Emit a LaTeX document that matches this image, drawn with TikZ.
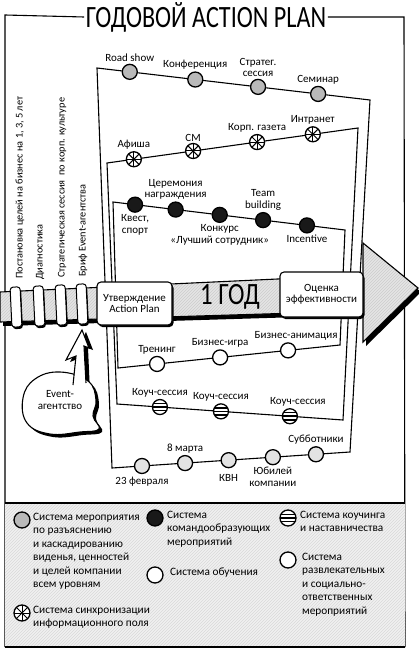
\documentclass[tikz,border=0pt]{standalone}
\usepackage{fontspec}
\setmainfont{Carlito}
\usetikzlibrary{calc,patterns,shadows,positioning}

\newcommand{\evfont}{\fontsize{11}{11.5}\selectfont}
\newcommand{\sidefont}{\fontsize{10.3}{11}\selectfont}
\newcommand{\legfont}{\fontsize{11.3}{13.4}\selectfont}
\newcommand{\bigfont}{\fontsize{31}{31}\selectfont}
\newcommand{\arrowpath}{(0,292) -- (363,275) -- (363,243) -- (418,288) -- (363,342) -- (363,311) -- (0,322) -- cycle}
\newcommand{\bubblepath}{plot[smooth cycle, tension=0.7] coordinates {(60,372) (88,381) (96,400) (93,416) (99,429) (80,432) (50,434) (27,423) (23,398) (35,379)}}
\newcommand{\boltpath}{(73,390) -- (76,356) -- (66,360) -- (82,330) -- (89,348) -- (84,346) -- (86,390) -- cycle}

\tikzset{
  frame/.style={line width=1.1pt},
  loopline/.style={line width=1.1pt, line join=miter},
  ev/.style={circle, draw, line width=1.3pt, minimum size=15pt, inner sep=0pt},
  visionev/.style={ev, fill=gray!55},
  syncev/.style={ev, fill=white, path picture={
      \foreach \a in {0,45,90,135}
        \draw[line width=1pt] ($(path picture bounding box.center)+(\a:9pt)$) -- ($(path picture bounding box.center)+(\a+180:9pt)$);}},
  teamev/.style={ev, fill=black!90},
  studyev/.style={ev, fill=white},
  coachev/.style={ev, fill=white, path picture={
      \foreach \d in {-3.6,0,3.6}
        \draw[line width=1.6pt] ($(path picture bounding box.center)+(-10pt,\d*1pt)$) -- ++(20pt,0pt);}},
  funev/.style={ev, fill=gray!22},
  every label/.style={font=\evfont, align=center, inner sep=1.5pt},
  stepbox/.style={draw, fill=white, rounded corners=4pt, line width=1.1pt, align=center, font=\evfont,
      drop shadow={shadow xshift=1.5pt, shadow yshift=-2pt, fill=black, opacity=1}},
  coil/.style={draw, fill=white, rounded corners=3pt, minimum width=10pt, minimum height=40pt, line width=1pt,
      rotate=2.7, drop shadow={shadow xshift=1pt, shadow yshift=-2pt, fill=black, opacity=1}},
  sidetext/.style={rotate=90, anchor=west, font=\sidefont, inner sep=1pt},
  legtext/.style={anchor=north west, align=left, font=\legfont, inner sep=0pt},
  legicon/.style={minimum size=16pt}
}

\begin{document}
\begin{tikzpicture}[x=1pt, y=-1pt]
\useasboundingbox (0,0) rectangle (419,650);

% Title and frame
\node[font=\bigfont, xscale=0.78, inner sep=2pt] (title) at (206,17) {ГОДОВОЙ ACTION PLAN};
\draw[frame] (5,647) -- (5,15) -- (title.west);
\draw[frame] (title.east) -- (404,17) -- (405,647);

% Legend background
\fill[gray!12] (5,503) rectangle (405,647);
\fill[pattern=north east lines, pattern color=gray!30] (5,503) rectangle (405,647);
\draw[frame] (5,503) -- (405,503);
\draw[line width=1.6pt] (5,647) -- (405,647);

% Loop corners
\coordinate (A-tl) at (97,68);
\coordinate (A-tr) at (370,100);
\coordinate (A-br) at (350,452);
\coordinate (A-bl) at (112,468);
\coordinate (B-tl) at (107,163);
\coordinate (B-tr) at (358,128);
\coordinate (B-br) at (343,420);
\coordinate (B-bl) at (117,404);
\coordinate (C-tl) at (113,202);
\coordinate (C-tr) at (345,230);
\coordinate (C-br) at (340,345);
\coordinate (C-bl) at (118,368);

\draw[loopline] (A-tl) -- (A-tr) -- (A-br) -- (A-bl) -- cycle;
\draw[loopline] (B-tl) -- (B-tr) -- (B-br) -- (B-bl) -- cycle;
\draw[loopline] (C-tl) -- (C-tr) -- (C-br) -- (C-bl) -- cycle;

% Row 1
\node[visionev, label=above:Road show] (roadshow) at ($(A-tl)!0.12!(A-tr)$) {};
\node[visionev, label=above:Конференция] (conf) at ($(A-tl)!0.36!(A-tr)$) {};
\node[visionev, label={above:Стратег.\\сессия}] (strat) at ($(A-tl)!0.59!(A-tr)$) {};
\node[visionev, label=above:Семинар] (seminar) at ($(A-tl)!0.81!(A-tr)$) {};

% Row 2
\node[syncev, label=above:Афиша] (afisha) at ($(B-tl)!0.107!(B-tr)$) {};
\node[syncev, label=above:СМ] (smi) at ($(B-tl)!0.343!(B-tr)$) {};
\node[syncev, label=above:Корп. газета] (gazeta) at ($(B-tl)!0.598!(B-tr)$) {};
\node[syncev, label=above:Интранет] (intranet) at ($(B-tl)!0.82!(B-tr)$) {};

% Row 3
\node[teamev, label={below:Квест,\\спорт}] (quest) at ($(C-tl)!0.095!(C-tr)$) {};
\node[teamev, label={above:Церемония\\награждения}] (award) at ($(C-tl)!0.27!(C-tr)$) {};
\node[teamev, label={below:Конкурс\\«Лучший сотрудник»}] (contest) at ($(C-tl)!0.46!(C-tr)$) {};
\node[teamev, label={above:Team\\building}] (teamb) at ($(C-tl)!0.647!(C-tr)$) {};
\node[teamev, label=below:Incentive] (incentive) at ($(C-tl)!0.836!(C-tr)$) {};

% Row 4
\node[studyev, label=above:Тренинг] (training) at ($(C-bl)!0.176!(C-br)$) {};
\node[studyev, label=above:Бизнес-игра] (bgame) at ($(C-bl)!0.46!(C-br)$) {};
\node[studyev, label={[xshift=8pt]above:Бизнес-анимация}] (banim) at ($(C-bl)!0.766!(C-br)$) {};

% Row 5
\node[coachev, label=above:Коуч-сессия] (coach1) at ($(B-bl)!0.19!(B-br)$) {};
\node[coachev, label=above:Коуч-сессия] (coach2) at ($(B-bl)!0.46!(B-br)$) {};
\node[coachev, label={[xshift=8pt]above:Коуч-сессия}] (coach3) at ($(B-bl)!0.765!(B-br)$) {};

% Row 6
\node[funev, label={[label distance=1pt]below:23 февраля}] (feb23) at ($(A-bl)!0.126!(A-br)$) {};
\node[funev, label=above:8 марта] (mar8) at ($(A-bl)!0.307!(A-br)$) {};
\node[funev, label={[label distance=4pt]below:КВН}] (kvn) at ($(A-bl)!0.49!(A-br)$) {};
\node[funev, label={below:Юбилей\\компании}] (jubilee) at ($(A-bl)!0.676!(A-br)$) {};
\node[funev, label=above:Субботники] (subbot) at ($(A-bl)!0.857!(A-br)$) {};

% Year arrow
\fill[black, shift={(3,4)}] \arrowpath;
\draw[line width=1.1pt, preaction={fill=gray!20}, pattern=north east lines, pattern color=gray!40] \arrowpath;
\foreach \x/\y [count=\i] in {16/307, 39/306, 61/305, 82/304}
  \node[coil] (coil\i) at (\x,\y) {};
\node[stepbox, minimum width=75pt, minimum height=43pt] (approve) at (134.5,303.5) {Утверждение\\Action Plan};
\node[stepbox, minimum width=83pt, minimum height=45pt] (assess) at (321.5,294.5) {Оценка\\эффективности};
\node[font=\bigfont, xscale=0.8] (year) at (230,297) {1 ГОД};

% Preparation steps
\node[sidetext] (goals) at (20,280) {Постановка целей на бизнес на 1, 3, 5 лет};
\node[sidetext] (diag) at (40,281) {Диагностика};
\node[sidetext] (stratsess) at (62,279) {Стратегическая сессия\ \ по корп. культуре};
\node[sidetext] (brief) at (83,278) {Бриф Event-агентства};

% Event agency
\fill[black, shift={(3,3)}] \bubblepath;
\fill[black, shift={(4,2)}] \boltpath;
\draw[line width=1.1pt, fill=white] \bubblepath;
\fill[white] \boltpath;
\draw[line width=1.1pt, line join=miter] (73,385) -- (76,356) -- (66,360) -- (82,330) -- (89,348) -- (84,346) -- (86,383);
\node[font=\evfont, align=center] (agency) at (60,400) {Event-\\агентство};

% Legend
\node[visionev, legicon] (lg-vision) at (22,520) {};
\node[legtext] at (33,513) {Система мероприятия\\по разъяснению\\и каскадированию\\виденья, ценностей\\и целей компании\\всем уровням};
\node[syncev, legicon] (lg-sync) at (22,613) {};
\node[legtext] at (33,606) {Система синхронизации\\информационного поля};
\node[teamev, legicon] (lg-team) at (155,518) {};
\node[legtext] at (167,511) {Система\\командообразующих\\мероприятий};
\node[studyev, legicon] (lg-study) at (155,575) {};
\node[legtext] at (170,568) {Система обучения};
\node[coachev, legicon] (lg-coach) at (288,518) {};
\node[legtext] at (300,511) {Система коучинга\\и наставничества};
\node[studyev, legicon] (lg-fun) at (288,560) {};
\node[legtext] at (302,553) {Система\\развлекательных\\и социально-\\ответственных\\мероприятий};
\end{tikzpicture}
\end{document}
